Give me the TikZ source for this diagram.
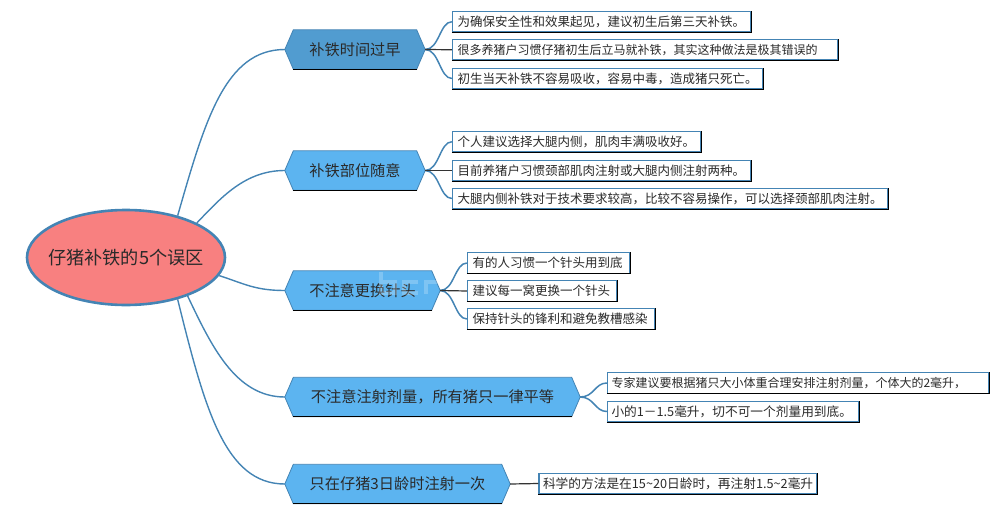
\documentclass[tikz,border=0pt]{standalone}
\usepackage{fontspec}
\setmainfont{Noto Sans CJK SC}
\usetikzlibrary{shapes.geometric,calc,backgrounds}
\definecolor{lineblue}{HTML}{4484B4}
\definecolor{hexone}{HTML}{519CD0}
\definecolor{hexrest}{HTML}{5CB4F0}
\definecolor{rootfill}{HTML}{F88080}
\definecolor{inkc}{HTML}{2A2A2A}
\tikzset{
  rootnode/.style={ellipse,draw=lineblue,line width=2.6pt,fill=rootfill,minimum width=198pt,minimum height=95pt,inner sep=0pt,text=inkc,font=\fontsize{18.2}{20}\selectfont},
  hexbox/.style={rectangle,minimum width=#1,minimum height=39pt,inner sep=0pt,text=inkc,font=\fontsize{15.2}{18}\selectfont},
  hexedge/.style={draw=lineblue,line width=0.8pt},
  leaf/.style={rectangle,draw=lineblue,fill=white,line width=1.3pt,minimum height=20.5pt,text width=#1,align=left,inner xsep=5pt,inner ysep=0pt,text=inkc,font=\fontsize{12.5}{14}\selectfont,
    append after command={(\tikzlastnode.south west) edge[edgedark] (\tikzlastnode.south east) (\tikzlastnode.south east) edge[edgedark] (\tikzlastnode.north east)}},
  edgedark/.style={draw=black,line width=1pt},
  branch/.style={draw=lineblue,line width=1.4pt},
  twig/.style={draw=lineblue,line width=1.5pt},
  twigdark/.style={draw=black!80,line width=1.2pt},
  markstroke/.style={draw=white,opacity=0.22,line width=4pt},
}
\begin{document}
\begin{tikzpicture}[x=1pt,y=-1pt]
\useasboundingbox (0,0) rectangle (1006,514);
\node[rootnode] (root) at (126,257.5) {\makebox[0pt]{仔猪补铁的5个误区}};
\node[hexbox=140pt] (h1) at (355,49.5) {补铁时间过早};
\node[hexbox=140pt] (h2) at (355,170.5) {补铁部位随意};
\node[hexbox=155pt] (h3) at (362.5,290.5) {不注意更换针头};
\node[hexbox=295pt] (h4) at (432.5,397) {不注意注射剂量，所有猪只一律平等};
\node[hexbox=225pt] (h5) at (397.5,484) {只在仔猪3日龄时注射一次};
\begin{scope}[on background layer]
\foreach \h/\c in {h1/hexone,h2/hexrest,h3/hexrest,h4/hexrest,h5/hexrest}{
  \path[hexedge,fill=\c] (\h.west) -- ($(\h.north west)+(8.5,0)$) -- ($(\h.north east)+(-8.5,0)$) -- (\h.east) -- ($(\h.south east)+(-8.5,0)$) -- ($(\h.south west)+(8.5,0)$) -- cycle;
  \path[edgedark] ($(\h.south west)+(8.5,0)$) -- ($(\h.south east)+(-8.5,0)$);
}
\end{scope}
\node[leaf=288.5pt] (a1) at (601.75,21.75) {为确保安全性和效果起见，建议初生后第三天补铁。};
\node[leaf=375.5pt,font=\fontsize{12}{14}\selectfont] (a2) at (645.25,49.75) {很多养猪户习惯仔猪初生后立马就补铁，其实这种做法是极其错误的};
\node[leaf=300.5pt] (a3) at (607.75,78.5) {初生当天补铁不容易吸收，容易中毒，造成猪只死亡。};
\node[leaf=238.5pt] (b1) at (576.75,141.75) {个人建议选择大腿内侧，肌肉丰满吸收好。};
\node[leaf=288.5pt] (b2) at (601.75,170.5) {目前养猪户习惯颈部肌肉注射或大腿内侧注射两种。};
\node[leaf=425.5pt] (b3) at (670.25,198.5) {大腿内侧补铁对于技术要求较高，比较不容易操作，可以选择颈部肌肉注射。};
\node[leaf=152pt] (c1) at (548.5,263) {有的人习惯一个针头用到底};
\node[leaf=139pt] (c2) at (542,291) {建议每一窝更换一个针头};
\node[leaf=177pt] (c3) at (561,319) {保持针头的锋利和避免教槽感染};
\node[leaf=373pt,inner xsep=4pt,font=\fontsize{12}{14}\selectfont] (d1) at (798,383) {专家建议要根据猪只大小体重合理安排注射剂量，个体大的2毫升，};
\node[leaf=243.5pt,inner xsep=4pt,font=\fontsize{12.7}{14}\selectfont] (d2) at (733.25,411.5) {小的1－1.5毫升，切不可一个剂量用到底。};
\node[leaf=270pt,inner xsep=4pt,font=\fontsize{12.7}{14}\selectfont] (e1) at (678,483.5) {科学的方法是在15\textasciitilde20日龄时，再注射1.5\textasciitilde2毫升};
\path[branch] (root.39.6) .. controls +(27,-94) and +(-60,0) .. (h1.west);
\path[branch] (root.26.6) .. controls +(24,-25) and +(-40,0) .. (h2.west);
\path[branch] (root.-11.7) .. controls +(25,8) and +(-30,0) .. (h3.west);
\path[branch] (root.-32.6) .. controls +(23,48) and +(-50,0) .. (h4.west);
\path[branch] (root.-39.6) .. controls +(27,109) and +(-60,0) .. (h5.west);
\foreach \s/\t in {h1/a1,h1/a3,h2/b1,h2/b3,h3/c1,h3/c3,h4/d1,h4/d2}
  \path[twig] (\s.east) .. controls +(14,0) and +(-12,0) .. (\t.west);
\foreach \s/\t in {h1/a2,h2/b2,h3/c2,h5/e1}
  \path[twigdark] (\s.east) -- (\t.west);
% faint watermark strokes over the third hexagon
\path[markstroke] (381,272) -- (381,293) -- (395,293) -- (395,282) -- (381,282);
\path[markstroke] (418,282) -- (404,282) -- (404,293) -- (418,293);
\path[markstroke] (426,294) -- (426,282) -- (438,282);
\end{tikzpicture}
\end{document}
